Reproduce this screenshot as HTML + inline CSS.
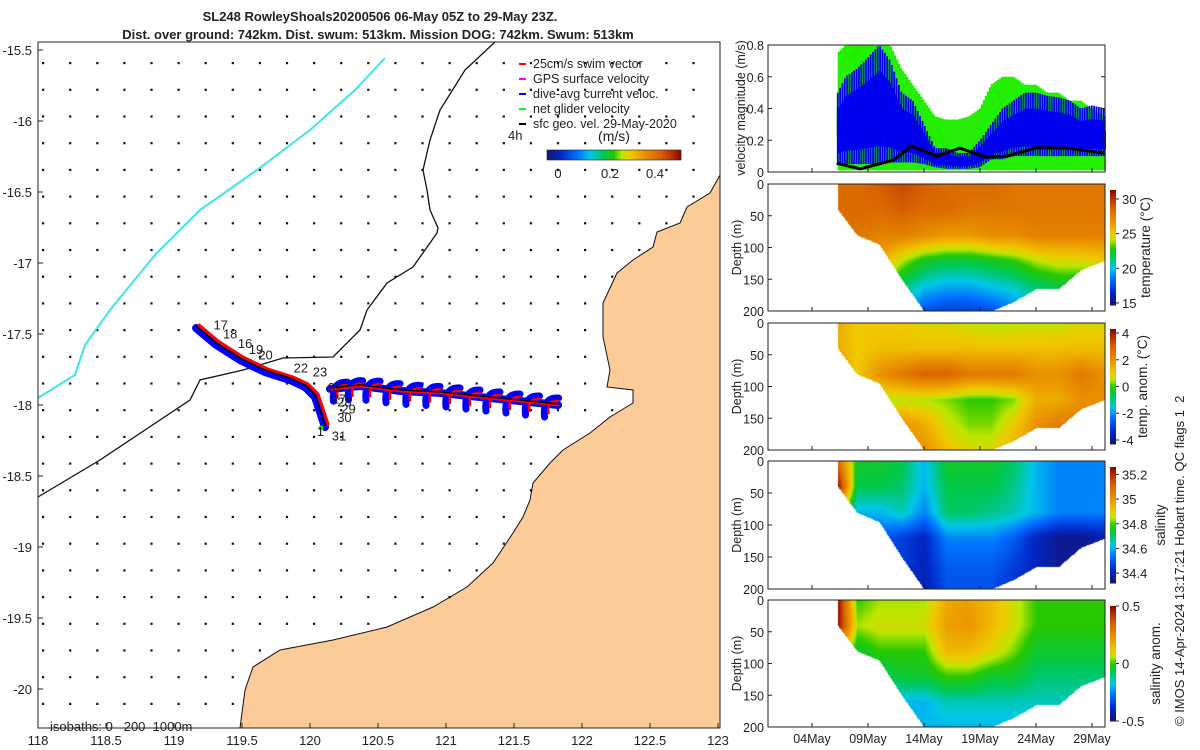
<!DOCTYPE html>
<html><head><meta charset="utf-8">
<style>
html,body{margin:0;padding:0;background:#fff;}
body{width:1200px;height:750px;position:relative;overflow:hidden;font-family:"Liberation Sans",sans-serif;}
canvas{position:absolute;}
svg{position:absolute;left:0;top:0;}
svg text{font-family:"Liberation Sans",sans-serif;fill:#222;}
</style></head>
<body>
<canvas id="c2"></canvas>
<canvas id="c3"></canvas>
<canvas id="c4"></canvas>
<canvas id="c5"></canvas>
<svg id="s" width="1200" height="750"></svg>
<script>
// ---------- data ----------
const latTicks=[15.5,16,16.5,17,17.5,18,18.5,19,19.5,20];
const lonTicks=[118,118.5,119,119.5,120,120.5,121,121.5,122,122.5,123];
const trackLonNW=[119.162,119.301,119.485,119.669,119.853,119.963,120.037,120.074,120.110];
const trackLatNW=[17.444,17.556,17.669,17.754,17.810,17.859,17.930,18.035,18.141];
const trackLonE=[120.147,120.368,120.662,120.956,121.250,121.544,121.824];
const trackLatE=[17.880,17.859,17.894,17.908,17.937,17.965,17.993];
const dayLabels=["17","18","16","19","20","22","23","22","27","28","29","30","1","31"];
const dayLabelLon=[119.29,119.36,119.47,119.55,119.62,119.88,120.02,120.13,120.16,120.2,120.23,120.2,120.05,120.16];
const dayLabelLat=[17.47,17.53,17.6,17.64,17.68,17.77,17.8,17.91,17.99,18.01,18.06,18.12,18.22,18.25];
const velDays=[6.3,7,8,9,10,11,12,13,14,15,16,17,18,19,20,21,22,23,24,25,26,27,28,29,30.2];
const blueHi=[0.5,0.6,0.65,0.72,0.8,0.7,0.5,0.45,0.3,0.15,0.15,0.12,0.12,0.2,0.3,0.4,0.45,0.5,0.5,0.48,0.47,0.45,0.4,0.42,0.4];
const blueLo=[0.05,0.05,0.05,0.05,0.05,0.06,0.06,0.06,0.05,0.03,0.02,0.02,0.02,0.03,0.08,0.08,0.1,0.1,0.1,0.1,0.1,0.1,0.1,0.1,0.1];
const greenHi=[0.75,0.8,0.8,0.8,0.8,0.8,0.65,0.55,0.45,0.35,0.33,0.33,0.35,0.4,0.55,0.6,0.6,0.55,0.55,0.5,0.5,0.45,0.45,0.4,0.35];
const geoDays=[6.2,8.3,11.3,12.9,15.1,17.2,19.6,21.4,24.1,26.8,30];
const geoVel=[0.055,0.02,0.075,0.165,0.1,0.15,0.093,0.1,0.153,0.15,0.12];
const secDays=[6.3,8,10,12,14,16,18,20,22,24,26,28,30.2];
const secMaxDepth=[40,80,95,150,200,200,200,200,185,165,165,135,120];
const secLevels=[0,40,80,120,160,200];
const temp=[[28.5,28.5,29,29.5,29,28.5,28.5,28.5,28,28,28,28,28],[28.5,28.5,28.5,29,28.5,28.5,28,28,28,28,28,28,28],[28,28,27.5,27.5,27,26.5,26.5,27,27,27.5,27.5,27.5,27.5],[27,27,26,24,22.5,22,22,22.5,23,24,24.5,24.5,25],[26,26,24,21.5,20,19.5,19.5,20,20.5,21.5,22,22,22],[25,25,23,20,17.5,17,17,17.5,18.5,20,21,21,21]];
const tanom=[[1.5,1,1,1,0.8,0.8,0.6,0.5,0.5,0.6,0.6,0.8,0.8],[1.5,1,1.2,1.2,1.2,1.2,1.2,1.2,1.2,1.2,1.2,1.2,1.2],[2,1,2,2.5,3,3,2.5,2.5,2.5,2,2,2.5,2],[2,1,0.5,0.5,0.5,0.3,0,0,0.3,1.5,1.5,2,2],[2,1,1,2,1.5,0.7,0.3,0.3,1,2,2.5,2.5,2.5],[2,1,1,2,2,1.2,0.8,0.8,1.5,2,2.5,2.5,2.5]];
const sal=[[35.1,34.75,34.75,34.72,34.6,34.75,34.75,34.75,34.7,34.6,34.55,34.55,34.55],[35.26,34.72,34.72,34.7,34.6,34.72,34.72,34.72,34.68,34.6,34.55,34.55,34.55],[34.9,34.6,34.6,34.65,34.55,34.7,34.7,34.68,34.65,34.6,34.55,34.55,34.55],[34.6,34.55,34.5,34.45,34.4,34.55,34.55,34.55,34.5,34.4,34.35,34.35,34.38],[34.5,34.5,34.45,34.45,34.4,34.5,34.5,34.5,34.45,34.4,34.35,34.35,34.35],[34.5,34.5,34.43,34.43,34.38,34.48,34.48,34.48,34.43,34.38,34.33,34.33,34.33]];
const sanom=[[0.5,0,0.05,0.05,0.05,0.18,0.2,0.15,0.08,0,0,0,0],[0.5,0.05,0.08,0.08,0.08,0.2,0.22,0.15,0.08,0,0,0,0],[0.2,-0.05,0,0,0,0.15,0.15,0.1,0.03,-0.05,-0.05,-0.05,-0.05],[0,-0.1,-0.1,-0.05,-0.05,0,0,-0.05,-0.05,-0.1,-0.1,-0.1,-0.1],[0,-0.2,-0.2,-0.2,-0.2,-0.15,-0.15,-0.15,-0.15,-0.15,-0.15,-0.15,-0.15],[0,-0.2,-0.2,-0.2,-0.2,-0.2,-0.2,-0.2,-0.2,-0.2,-0.2,-0.2,-0.2]];
const dateTicks=[4,9,14,19,24,29];
const dateTickLabels=["04May","09May","14May","19May","24May","29May"];

// ---------- helpers ----------
const S=document.getElementById('s');const NS='http://www.w3.org/2000/svg';
function mk(tag,attrs,parent){const e=document.createElementNS(NS,tag);for(const k in attrs)e.setAttribute(k,attrs[k]);(parent||S).appendChild(e);return e;}
function tx(x,y,str,size,anchor,extra){const e=mk('text',Object.assign({x:x,y:y,'font-size':size,'text-anchor':anchor||'start'},extra||{}));e.textContent=str;return e;}
const mx=lon=>38+(lon-118)*136;
const my=lat=>50+(lat-15.5)*142;
const dx=d=>812+(d-4)*11.2;
function clamp(v){return Math.max(0,Math.min(1,v));}
const cmS=[0,0.1,0.22,0.32,0.42,0.5,0.56,0.62,0.72,0.85,0.95,1];
const cmC=[[20,20,120],[0,40,200],[0,110,255],[0,200,230],[0,200,80],[40,200,0],[190,230,0],[240,200,0],[235,150,0],[215,100,0],[180,40,0],[140,10,0]];
function jet(v){v=clamp(v);for(let i=1;i<cmS.length;i++){if(v<=cmS[i]){const t=(v-cmS[i-1])/(cmS[i]-cmS[i-1]);return cmC[i].map((c,k)=>Math.round(cmC[i-1][k]+t*(c-cmC[i-1][k])));}}return cmC[cmC.length-1];}
function interp(xs,ys,x){if(x<=xs[0])return ys[0];for(let i=1;i<xs.length;i++){if(x<=xs[i]){const t=(x-xs[i-1])/(xs[i]-xs[i-1]);return ys[i-1]+t*(ys[i]-ys[i-1]);}}return ys[ys.length-1];}

// ---------- map ----------
const land=[[720,175],[710,193],[687,207],[680,223],[657,232],[653,247],[633,260],[617,273],[603,303],[603,337],[610,370],[607,387],[633,390],[633,403],[610,417],[590,433],[563,450],[550,463],[533,483],[530,500],[523,517],[513,533],[493,563],[467,587],[433,607],[387,627],[333,640],[280,650],[253,667],[245,690],[240,728],[720,728]];
const landEl=mk('polygon',{points:land.map(p=>p.join(',')).join(' '),fill:'#FBCB9A',stroke:'#111','stroke-width':1});

function inPoly(x,y,poly){let c=false;for(let i=0,j=poly.length-1;i<poly.length;j=i++){const [xi,yi]=poly[i],[xj,yj]=poly[j];if(((yi>y)!=(yj>y))&&(x<(xj-xi)*(y-yi)/(yj-yi)+xi))c=!c;}return c;}
const dots=mk('g',{fill:'#111'});
for(let i=0;i<26;i++)for(let j=0;j<26;j++){const x=43+27.1*i,y=63+26.7*j;if(x>715||y>725)continue;if(inPoly(x,y,land))continue;mk('rect',{x:x-1,y:y-1,width:2.2,height:2.2},dots);}
const iso=mk('polyline',{points:'38,497 100,460 160,420 190,400 200,380 243,370 283,358 333,357 360,330 367,310 387,283 413,267 437,233 438,228 430,210 427,190 423,170 430,140 440,110 465,70 495,42',fill:'none',stroke:'#111','stroke-width':1.3});

const iso2=mk('polyline',{points:'38,398 75,375 85,345 110,310 155,255 200,210 257,170 310,130 355,90 385,58',fill:'none',stroke:'#3de6e6','stroke-width':2});

// track
function trackPts(lo,la,ox,oy){return lo.map((v,i)=>(mx(v)+ox)+','+(my(la[i])+oy)).join(' ');}
const tg=mk('g',{fill:'none','stroke-linejoin':'round','stroke-linecap':'round'});
mk('polyline',{points:trackPts(trackLonNW,trackLatNW,0,2),stroke:'#0000ff','stroke-width':8},tg);
mk('polyline',{points:trackPts(trackLonE,trackLatE,0,1),stroke:'#0000ff','stroke-width':8},tg);
for(let i=0;i<trackLonE.length-1;i++){for(let h=0;h<2;h++){const f=h/2+0.25;const x=mx(trackLonE[i])+f*(mx(trackLonE[i+1])-mx(trackLonE[i]));const y=my(trackLatE[i])+f*(my(trackLatE[i+1])-my(trackLatE[i]));
  mk('path',{d:`M${x+10},${y-5} Q${x-6},${y-6} ${x-4},${y+14}`,stroke:'#0000ff','stroke-width':7},tg);
  mk('path',{d:`M${x+10},${y-2} Q${x-2},${y-3} ${x},${y+10}`,stroke:'#ff0000','stroke-width':2.5},tg);}}
mk('polyline',{points:trackPts(trackLonNW,trackLatNW,3,-1),stroke:'#ff0000','stroke-width':3},tg);
mk('polyline',{points:trackPts(trackLonE,trackLatE,0,1),stroke:'#ff0000','stroke-width':3},tg);
mk('polyline',{points:trackPts(trackLonNW,trackLatNW,0,0),stroke:'#000','stroke-width':1.4},tg);
mk('polyline',{points:trackPts(trackLonE,trackLatE,0,0),stroke:'#000','stroke-width':1.4},tg);
mk('rect',{x:mx(trackLonNW[8])-6,y:my(trackLatNW[8])+1,width:4,height:4,fill:'#0f0',stroke:'none'},tg);
const lg=mk('g',{});
dayLabels.forEach((s,i)=>{const t=tx(mx(dayLabelLon[i]),my(dayLabelLat[i]),s,13);lg.appendChild(t);});
// frame + ticks
const fr=mk('rect',{x:38,y:42,width:682,height:686,fill:'none',stroke:'#222','stroke-width':1});

latTicks.forEach(v=>{const y=my(v);mk('line',{x1:38,y1:y,x2:43,y2:y,stroke:'#222'});const t=tx(32,y+5,String(-v),13,'end');});
lonTicks.forEach(v=>{const x=mx(v);mk('line',{x1:x,y1:728,x2:x,y2:723,stroke:'#222'});const t=tx(x,745,String(v),13,'middle');});
let t=tx(380,21,'SL248 RowleyShoals20200506 06-May 05Z to 29-May 23Z.',13,'middle',{'font-weight':'bold'});
t=tx(378,39,'Dist. over ground: 742km. Dist. swum: 513km. Mission DOG: 742km. Swum: 513km',13,'middle',{'font-weight':'bold'});
t=tx(50,731,'isobaths: 0\u00a0\u00a0\u00a0200\u00a0\u00a01000m',13,'start');
// legend
const leg=mk('g',{});
const legTxt=['25cm/s swim vector','GPS surface velocity','dive-avg current veloc.','net glider velocity','sfc geo. vel. 29-May-2020'];
const legCol=['#ff0000','#ff00ff','#0000ff','#00ff00','#000'];
legTxt.forEach((s,i)=>{const y=67+15*i;mk('line',{x1:519,y1:y-3,x2:526,y2:y-3,stroke:legCol[i],'stroke-width':2},leg);const e=tx(533,y+1,s,12.5);leg.appendChild(e);});
t=tx(508,140,'4h',13);
t=tx(614,141,'(m/s)',14,'middle');
const cbg=mk('g',{});
for(let i=0;i<67;i++){const c=jet(i/66);mk('rect',{x:547+i*2,y:150,width:2.2,height:10,fill:`rgb(${c})`},cbg);}
mk('rect',{x:547,y:150,width:134,height:10,fill:'none',stroke:'#222','stroke-width':0.6},cbg);
[['0',558],['0.2',610],['0.4',655]].forEach(a=>{cbg.appendChild(tx(a[1],178,a[0],13,'middle'));});

// ---------- right panels ----------
const PL=768,PR=1105;
const panels=[[45,172],[184,311],[323,450],[461,589],[600,727]];
const vy=v=>172-v*158.75;
const vg=mk('g',{});
let k2=0;
for(let d=velDays[0];d<=velDays[velDays.length-1];d+=0.09,k2++){
  const gh=interp(velDays,greenHi,d);const odd=k2%2;
  mk('line',{x1:dx(d),y1:vy(odd?gh:gh*0.55),x2:dx(d),y2:vy(odd?0.01:0.3*gh),stroke:'#22ee00','stroke-width':2.2},vg);
}
k2=0;
for(let d=velDays[0];d<=velDays[velDays.length-1];d+=0.07,k2++){
  const bh=interp(velDays,blueHi,d);const bl=interp(velDays,blueLo,d);const m=k2%3;
  mk('line',{x1:dx(d),y1:vy(m==0?bh:m==1?bh*0.8:bh*0.65),x2:dx(d),y2:vy(m==0?bl:m==1?bh*0.35:bl+0.5*(bh-bl)*0.3),stroke:'#0000ee','stroke-width':1.8},vg);
}
mk('polyline',{points:geoDays.map((d,i)=>dx(d)+','+vy(geoVel[i])).join(' '),fill:'none',stroke:'#000','stroke-width':3},vg);
[0,0.2,0.4,0.6,0.8].forEach(v=>{mk('line',{x1:PL,y1:vy(v),x2:PL+4,y2:vy(v),stroke:'#222'},vg);mk('line',{x1:PR,y1:vy(v),x2:PR-4,y2:vy(v),stroke:'#222'},vg);vg.appendChild(tx(PL-4,vy(v)+5,String(v),12.5,'end'));});
t=tx(0,0,'velocity magnitude (m/s)',12.5,'middle',{transform:'translate(745,108) rotate(-90)'});

const secs=[
 {id:'c2',data:temp,lo:14.7,hi:31.3,ticks:[15,20,25,30],lab:'temperature (°C)',lx:1150},
 {id:'c3',data:tanom,lo:-4.3,hi:4.3,ticks:[-4,-2,0,2,4],lab:'temp. anom. (°C)',lx:1147},
 {id:'c4',data:sal,lo:34.32,hi:35.26,ticks:[34.4,34.6,34.8,35,35.2],lab:'salinity',lx:1165},
 {id:'c5',data:sanom,lo:-0.5,hi:0.5,ticks:[-0.5,0,0.5],lab:'salinity anom.',lx:1160}];
secs.forEach((s,k)=>{
  const [top,bot]=panels[k+1];const H=bot-top;const cv=document.getElementById(s.id);
  cv.width=PR-PL;cv.height=H;cv.style.left=PL+'px';cv.style.top=top+'px';
  const ctx=cv.getContext('2d');
  for(let x=0;x<PR-PL;x++){const d=4+(x+PL-812)/11.2;if(d<secDays[0]||d>secDays[secDays.length-1])continue;
    const md=interp(secDays,secMaxDepth,d);
    const col=s.data.map(row=>interp(secDays,row,d));
    for(let y=0;y<H;y+=1){const z=y/H*200;if(z>md)break;const v=interp(secLevels,col,z);const c=jet((v-s.lo)/(s.hi-s.lo));ctx.fillStyle=`rgb(${c})`;ctx.fillRect(x,y,1,1);}
  }
  const ct=top+6,cb=bot-6;const cg=mk('g',{});
  
  for(let i=0;i<40;i++){const c=jet(1-i/39);mk('rect',{x:1110,y:ct+(cb-ct)*i/40,width:6,height:(cb-ct)/40+0.5,fill:`rgb(${c})`},cg);}
  s.ticks.forEach(v=>{const y=cb-(v-s.lo)/(s.hi-s.lo)*(cb-ct);mk('line',{x1:1116,y1:y,x2:1119,y2:y,stroke:'#222'},cg);cg.appendChild(tx(1122,y+5,String(v),13));});
  const lt=tx(0,0,s.lab,13.5,'middle',{transform:`translate(${s.lx},${(top+bot)/2}) rotate(-90)`});
});
panels.forEach((p,k)=>{
  const [top,bot]=p;const fr=mk('rect',{x:PL,y:top,width:PR-PL,height:bot-top,fill:'none',stroke:'#222','stroke-width':1});
  
  dateTicks.forEach(d=>{mk('line',{x1:dx(d),y1:bot,x2:dx(d),y2:bot-4,stroke:'#222'});});
  if(k>0){[0,50,100,150,200].forEach(z=>{const y=top+z/200*(bot-top);mk('line',{x1:PL,y1:y,x2:PL+4,y2:y,stroke:'#222'});tx(PL-4,y+5,String(z),12.5,'end');});
    const dl=tx(0,0,'Depth (m)',12.5,'middle',{transform:`translate(741,${(top+bot)/2}) rotate(-90)`});}
});
dateTicks.forEach((d,i)=>{const e=tx(dx(d),743,dateTickLabels[i],12.5,'middle');});
t=tx(0,0,'© IMOS 14-Apr-2024 13:17:21 Hobart time. QC flags 1\u00a0\u00a02',13,'start',{transform:'translate(1184,726) rotate(-90)'});
</script>
</body></html>
